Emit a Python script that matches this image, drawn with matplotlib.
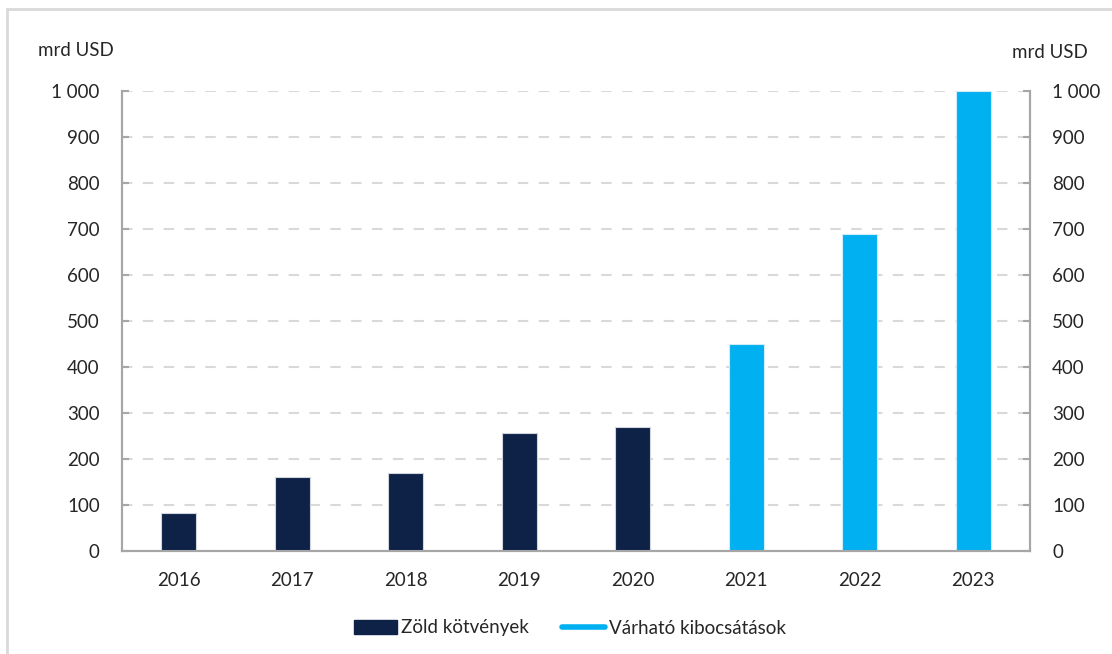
import matplotlib
matplotlib.use("Agg")
import matplotlib.pyplot as plt
from matplotlib.patches import Patch, Rectangle
from matplotlib.lines import Line2D

plt.rcParams['font.family'] = ['Lato', 'DejaVu Sans']

years = ["2016", "2017", "2018", "2019", "2020", "2021", "2022", "2023"]
green_bonds = [82, 161, 169, 257, 270, None, None, None]
expected = [None, None, None, None, None, 450, 690, 1000]
yticks = [0, 100, 200, 300, 400, 500, 600, 700, 800, 900, 1000]
ytick_labels = ["0", "100", "200", "300", "400", "500", "600", "700", "800", "900", "1 000"]
unit_label = "mrd USD"
legend_labels = ["Zöld kötvények", "Várható kibocsátások"]

navy = "#0e2147"
cyan = "#00b0f0"
spine_c = "#a6a6a6"
grid_c = "#d9d9d9"
txt_c = "#262626"
fs = 13.5

fig = plt.figure(figsize=(11.12, 6.54), dpi=100)
ax = fig.add_axes([122/1112, 1-551/654, (1030-122)/1112, (551-91)/654])

x = list(range(len(years)))
w = 0.31
for i in x:
    if green_bonds[i] is not None:
        ax.bar(i, green_bonds[i], width=w, color=navy, edgecolor="#d0d4dc", linewidth=0.8, zorder=3)
    if expected[i] is not None:
        ax.bar(i, expected[i], width=w, color=cyan, edgecolor="#d0ecf8", linewidth=0.8, zorder=3)

ax.set_xlim(-0.5, len(years)-0.5)
ax.set_ylim(0, 1000)
ax.set_yticks(yticks)
ax.set_yticklabels(ytick_labels)
ax.set_xticks(x)
ax.set_xticklabels(years)
ax.grid(axis='y', color=grid_c, linestyle=(0, (5, 5)), linewidth=1.5, zorder=0)
ax.set_axisbelow(True)
ax.tick_params(axis='x', length=0, pad=15, labelsize=fs, colors=txt_c)
ax.tick_params(axis='y', direction='in', length=5, width=1.5, color=spine_c, pad=16, labelsize=fs, labelcolor=txt_c)
for s in ['left', 'bottom', 'right']:
    ax.spines[s].set_color(spine_c)
    ax.spines[s].set_linewidth(1.5)
ax.spines['top'].set_visible(False)

ax2 = ax.twinx()
ax2.set_ylim(0, 1000)
ax2.set_yticks(yticks)
ax2.set_yticklabels(ytick_labels)
ax2.tick_params(axis='y', direction='in', length=5, width=1.5, color=spine_c, pad=16, labelsize=fs, labelcolor=txt_c)
for s in ['left', 'bottom', 'right']:
    ax2.spines[s].set_color(spine_c)
    ax2.spines[s].set_linewidth(1.5)
ax2.spines['top'].set_visible(False)

fig.text(38/1112, 1-50/654, unit_label, fontsize=fs, color=txt_c, ha='left', va='center')
fig.text(1088/1112, 1-52/654, unit_label, fontsize=fs, color=txt_c, ha='right', va='center')

handles = [Patch(facecolor=navy, edgecolor=navy),
           Line2D([0], [0], color=cyan, linewidth=4, solid_capstyle='round')]
fig.legend(handles, legend_labels, loc='center', bbox_to_anchor=(570/1112, 1-628/654),
           ncol=2, frameon=False, fontsize=fs, handlelength=2.3, handletextpad=0.2,
           columnspacing=1.8, labelcolor=txt_c)

# outer frame (light gray, extends past right/bottom edges)
fig.patches.append(Rectangle((7/1112, -0.1), 1.2, 1-9/654+0.1, transform=fig.transFigure,
                             fill=False, edgecolor="#d9d9d9", linewidth=2))

fig.savefig("out.png", dpi=100)
